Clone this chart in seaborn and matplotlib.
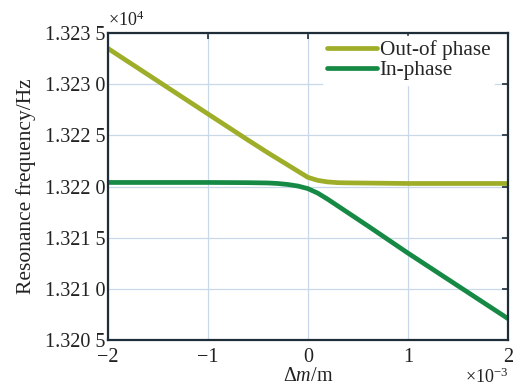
import matplotlib
matplotlib.use("Agg")
import matplotlib.pyplot as plt
import seaborn as sns
import pandas as pd

# x in units of 1e-3 (Δm/m), frequency in Hz
x_vals = [-2, -1.5, -1, -0.6, -0.4, -0.3, -0.2, -0.1, 0, 0.1, 0.2, 0.3, 0.4, 0.6, 1, 1.5, 2]
out_of_phase = [13233.5, 13230.3, 13227.1, 13224.55, 13223.3, 13222.7, 13222.1, 13221.5,
                13220.9, 13220.6, 13220.45, 13220.38, 13220.36, 13220.34, 13220.3,
                13220.3, 13220.3]
in_phase = [13220.4, 13220.4, 13220.4, 13220.38, 13220.35, 13220.3, 13220.2, 13220.05,
            13219.8, 13219.35, 13218.75, 13218.1, 13217.45, 13216.15, 13213.5,
            13210.3, 13207.1]
series_names = ["Out-of phase", "In-phase"]
series_colors = ["#9fae28", "#168a45"]

y_ticks = [13205, 13210, 13215, 13220, 13225, 13230, 13235]
y_tick_labels = ["1.320 5", "1.321 0", "1.321 5", "1.322 0", "1.322 5", "1.323 0", "1.323 5"]
x_ticks = [-2, -1, 0, 1, 2]
x_tick_labels = ["\u22122", "\u22121", "0", "1", "2"]

df = pd.DataFrame({
    "x": x_vals * 2,
    "f": out_of_phase + in_phase,
    "mode": [series_names[0]] * len(x_vals) + [series_names[1]] * len(x_vals),
})

sns.set_style("white")
plt.rcParams["font.family"] = ["Liberation Serif", "DejaVu Serif"]
plt.rcParams["mathtext.fontset"] = "custom"
plt.rcParams["mathtext.rm"] = "Liberation Serif"
plt.rcParams["mathtext.it"] = "Liberation Serif:italic"

fig = plt.figure(figsize=(5.14, 3.88), dpi=100)
ax = fig.add_axes([0.210, 0.1237, 0.778, 0.791])

sns.lineplot(data=df, x="x", y="f", hue="mode", palette=series_colors,
             hue_order=series_names, linewidth=3.4, ax=ax, sort=True)

ax.set_xlim(-2, 2)
ax.set_ylim(13205, 13235)
ax.set_xticks(x_ticks)
ax.set_xticklabels(x_tick_labels)
ax.set_yticks(y_ticks)
ax.set_yticklabels(y_tick_labels)
ax.grid(True, color="#c9d8e8", linewidth=0.9)
ax.set_axisbelow(True)

for s in ax.spines.values():
    s.set_color("#1e2d38")
    s.set_linewidth(1.6)

ax.tick_params(axis="both", direction="in", length=4, width=1.2, color="#1e2d38",
               labelsize=14.5, top=True, right=True, labelcolor="#222222")
ax.tick_params(axis="x", pad=5.5)
ax.tick_params(axis="y", pad=2)

ax.set_xlabel(r"$\Delta\mathit{m}$/m", fontsize=14.5, labelpad=0, color="#222222")
ax.set_ylabel("Resonance frequency/Hz", fontsize=15.5, labelpad=6, color="#222222")

ax.text(0.0, 1.01, r"$\times$10$^{4}$", transform=ax.transAxes, fontsize=13,
        ha="left", va="bottom", color="#222222")
ax.text(1.0, -0.09, r"$\times$10$^{-3}$", transform=ax.transAxes, fontsize=13,
        ha="right", va="top", color="#222222")

leg = ax.legend(loc="upper right", bbox_to_anchor=(0.975, 1.0), frameon=True,
                fontsize=15.3, handlelength=2.35, handletextpad=0.15,
                borderaxespad=0.15, labelspacing=0.0, borderpad=0.2)
leg.get_frame().set_edgecolor("white")
leg.get_frame().set_facecolor("white")
leg.get_frame().set_alpha(1)
leg.set_title(None)

fig.savefig("out.png", dpi=100)
